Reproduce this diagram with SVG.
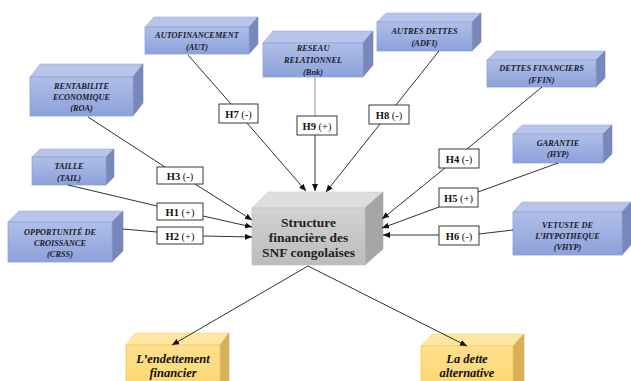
<svg xmlns="http://www.w3.org/2000/svg" width="631" height="381" viewBox="0 0 631 381">
<defs>
<linearGradient id="gBlue" x1="0" y1="0" x2="0" y2="1"><stop offset="0" stop-color="#b0bfe8"/><stop offset="1" stop-color="#8ba1da"/></linearGradient>
<linearGradient id="gGray" x1="0" y1="0" x2="0" y2="1"><stop offset="0" stop-color="#d2d2d2"/><stop offset="1" stop-color="#bcbcbc"/></linearGradient>
<linearGradient id="gYel" x1="0" y1="0" x2="0" y2="1"><stop offset="0" stop-color="#ffe08e"/><stop offset="1" stop-color="#fdd46c"/></linearGradient>
<marker id="arr" markerWidth="7" markerHeight="6" refX="7" refY="3" orient="auto" markerUnits="userSpaceOnUse"><path d="M0,0 L7,3 L0,6 z" fill="#111"/></marker>
</defs>
<style>
.bf{fill:url(#gBlue);stroke:#8ea3d9;stroke-width:0.8}
.bt{fill:#b8c4ea;stroke:#9fb0df;stroke-width:0.6}
.bs{fill:#7888bb;stroke:#7888bb;stroke-width:0.6}
.gf{fill:url(#gGray);stroke:#c0c0c0;stroke-width:0.8}
.gt{fill:#dedede;stroke:#cfcfcf;stroke-width:0.6}
.gs{fill:#a6a6a6;stroke:#a6a6a6;stroke-width:0.6}
.yf{fill:url(#gYel);stroke:#f2c85e;stroke-width:0.8}
.yt{fill:#ffe6a2;stroke:#f2d080;stroke-width:0.6}
.ys{fill:#d9b05a;stroke:#d9b05a;stroke-width:0.6}
.bt8{font-family:"Liberation Serif",serif;font-weight:bold;font-style:italic;font-size:8.3px;fill:#1a1a2a;text-anchor:middle}
.ct{font-family:"Liberation Serif",serif;font-weight:bold;font-size:13.5px;fill:#222;text-anchor:middle}
.yt12{font-family:"Liberation Serif",serif;font-weight:bold;font-style:italic;font-size:12.5px;fill:#111;text-anchor:middle}
.lb{fill:#fff;stroke:#222;stroke-width:0.9}
.lt{font-family:"Liberation Serif",serif;font-size:10.5px;fill:#111;text-anchor:middle}
.lt tspan.b{font-weight:bold}
.c{stroke:#1a1a1a;stroke-width:0.9;fill:none}
.cg{stroke:#8a8a8a;stroke-width:0.9;fill:none}
.a{marker-end:url(#arr)}
</style>
<rect width="631" height="381" fill="#fff"/>
<g id="n-aut">
<polygon class="bt" points="145,27 154,17 258,17 249,27"/>
<polygon class="bs" points="249,27 258,17 258,44 249,54"/>
<rect class="bf" x="145" y="27" width="104" height="27"/>
<text class="bt8" x="197" y="38">AUTOFINANCEMENT</text>
<text class="bt8" x="197" y="50">(AUT)</text>
</g>
<g id="n-roa">
<polygon class="bt" points="30,77 40,64 143,64 133,77"/>
<polygon class="bs" points="133,77 143,64 143,103 133,116"/>
<rect class="bf" x="30" y="77" width="103" height="39"/>
<text class="bt8" x="81.5" y="89">RENTABILITE</text>
<text class="bt8" x="81.5" y="100">ECONOMIQUE</text>
<text class="bt8" x="81.5" y="111">(ROA)</text>
</g>
<g id="n-bnk">
<polygon class="bt" points="263,43 273,31 373,31 363,43"/>
<polygon class="bs" points="363,43 373,31 373,65 363,77"/>
<rect class="bf" x="263" y="43" width="100" height="34"/>
<text class="bt8" x="313" y="51">RESEAU</text>
<text class="bt8" x="313" y="63">RELATIONNEL</text>
<text class="bt8" x="313" y="75">(Bnk)</text>
</g>
<g id="n-adfi">
<polygon class="bt" points="377,22 386,13 481,13 472,22"/>
<polygon class="bs" points="472,22 481,13 481,42 472,51"/>
<rect class="bf" x="377" y="22" width="95" height="29"/>
<text class="bt8" x="424.5" y="34">AUTRES DETTES</text>
<text class="bt8" x="424.5" y="46">(ADFI)</text>
</g>
<g id="n-ffin">
<polygon class="bt" points="487,60 496,51 605,51 596,60"/>
<polygon class="bs" points="596,60 605,51 605,78 596,87"/>
<rect class="bf" x="487" y="60" width="109" height="27"/>
<text class="bt8" x="541.5" y="71">DETTES FINANCIERS</text>
<text class="bt8" x="541.5" y="83">(FFIN)</text>
</g>
<g id="n-hyp">
<polygon class="bt" points="513,134 522,125 612,125 603,134"/>
<polygon class="bs" points="603,134 612,125 612,154 603,163"/>
<rect class="bf" x="513" y="134" width="90" height="29"/>
<text class="bt8" x="558" y="146">GARANTIE</text>
<text class="bt8" x="558" y="157">(HYP)</text>
</g>
<g id="n-vhyp">
<polygon class="bt" points="513,212 522,202 631,202 622,212"/>
<polygon class="bs" points="622,212 631,202 631,245 622,255"/>
<rect class="bf" x="513" y="212" width="109" height="43"/>
<text class="bt8" x="567.5" y="228">VETUSTE DE</text>
<text class="bt8" x="567.5" y="239">L’HYPOTHEQUE</text>
<text class="bt8" x="567.5" y="250">(VHYP)</text>
</g>
<g id="n-tail">
<polygon class="bt" points="32,157 40,149 114,149 106,157"/>
<polygon class="bs" points="106,157 114,149 114,177 106,185"/>
<rect class="bf" x="32" y="157" width="74" height="28"/>
<text class="bt8" x="69" y="169">TAILLE</text>
<text class="bt8" x="69" y="181">(TAIL)</text>
</g>
<g id="n-crss">
<polygon class="bt" points="8,222 19,211 123,211 112,222"/>
<polygon class="bs" points="112,222 123,211 123,251 112,262"/>
<rect class="bf" x="8" y="222" width="104" height="40"/>
<text class="bt8" x="60" y="235">OPPORTUNITÉ DE</text>
<text class="bt8" x="60" y="246">CROISSANCE</text>
<text class="bt8" x="60" y="257">(CRSS)</text>
</g>
<g id="n-center">
<polygon class="gt" points="252,208 268,192 383,192 365,208"/>
<polygon class="gs" points="365,208 383,192 383,249 365,265"/>
<rect class="gf" x="252" y="208" width="113" height="57"/>
<text class="ct" x="308.5" y="227">Structure</text>
<text class="ct" x="308.5" y="242">financière des</text>
<text class="ct" x="308.5" y="257">SNF congolaises</text>
</g>
<g id="n-endet">
<polygon class="yt" points="126,345 135,333 229,333 220,345"/>
<polygon class="ys" points="220,345 229,333 229,390 220,395"/>
<rect class="yf" x="126" y="345" width="94" height="50"/>
<text class="yt12" x="173" y="363">L’endettement</text>
<text class="yt12" x="173" y="377">financier</text>
</g>
<g id="n-dette">
<polygon class="yt" points="421,346 432,334 524,334 513,346"/>
<polygon class="ys" points="513,346 524,334 524,390 513,395"/>
<rect class="yf" x="421" y="346" width="92" height="50"/>
<text class="yt12" x="467" y="363">La dette</text>
<text class="yt12" x="467" y="377">alternative</text>
</g>
<g id="connectors">
<line class="c" x1="188" y1="55" x2="231" y2="104"/>
<line class="c a" x1="247" y1="123" x2="306" y2="191"/>
<line class="cg" x1="315" y1="77" x2="315" y2="116"/>
<line class="c a" x1="315" y1="135" x2="315" y2="191"/>
<line class="c" x1="439" y1="51" x2="396" y2="105"/>
<line class="c a" x1="380" y1="124" x2="326" y2="192"/>
<line class="c" x1="88" y1="117" x2="165" y2="167"/>
<line class="c a" x1="195" y1="184" x2="252" y2="220"/>
<line class="c" x1="68" y1="185" x2="157" y2="206"/>
<line class="c a" x1="203" y1="216" x2="252" y2="227"/>
<line class="c" x1="123" y1="229" x2="157" y2="232"/>
<line class="c a" x1="203" y1="236" x2="252" y2="237"/>
<line class="c" x1="542" y1="87" x2="467" y2="149"/>
<line class="c a" x1="445" y1="168" x2="382" y2="219"/>
<line class="c" x1="558" y1="163" x2="478" y2="192"/>
<line class="c a" x1="439" y1="207" x2="382" y2="228"/>
<line class="c" x1="513" y1="230" x2="479" y2="234"/>
<line class="c a" x1="439" y1="235" x2="383" y2="235"/>
<line class="c a" x1="308" y1="266" x2="172" y2="345"/>
<line class="c a" x1="308" y1="266" x2="467" y2="346"/>
</g>
<g id="l-h7"><rect class="lb" x="219" y="104" width="39" height="19"/><text class="lt" x="238.5" y="117.5"><tspan class="b">H7</tspan> (-)</text></g>
<g id="l-h9"><rect class="lb" x="297" y="116" width="40" height="19"/><text class="lt" x="317" y="129.5"><tspan class="b">H9</tspan> (+)</text></g>
<g id="l-h8"><rect class="lb" x="369" y="105" width="40" height="19"/><text class="lt" x="389" y="118.5"><tspan class="b">H8</tspan> (-)</text></g>
<g id="l-h3"><rect class="lb" x="157" y="167" width="46" height="17"/><text class="lt" x="180" y="179.5"><tspan class="b">H3</tspan> (-)</text></g>
<g id="l-h1"><rect class="lb" x="157" y="203" width="46" height="17"/><text class="lt" x="180" y="215.5"><tspan class="b">H1</tspan> (+)</text></g>
<g id="l-h2"><rect class="lb" x="157" y="227" width="46" height="17"/><text class="lt" x="180" y="239.5"><tspan class="b">H2</tspan> (+)</text></g>
<g id="l-h4"><rect class="lb" x="439" y="149" width="40" height="19"/><text class="lt" x="459" y="162.5"><tspan class="b">H4</tspan> (-)</text></g>
<g id="l-h5"><rect class="lb" x="439" y="188" width="39" height="19"/><text class="lt" x="458.5" y="201.5"><tspan class="b">H5</tspan> (+)</text></g>
<g id="l-h6"><rect class="lb" x="439" y="226" width="40" height="19"/><text class="lt" x="459" y="239.5"><tspan class="b">H6</tspan> (-)</text></g>
</svg>
